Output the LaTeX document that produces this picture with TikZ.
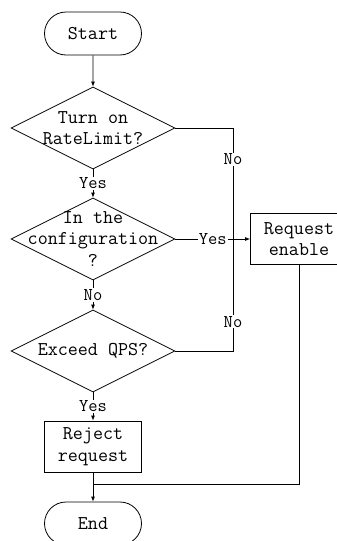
\documentclass[tikz,border=0pt]{standalone}
\usepackage{tikz}
\usetikzlibrary{shapes.geometric, shapes.misc, arrows.meta, positioning}

\tikzset{
  terminal/.style={draw, rounded rectangle, minimum width=97pt, minimum height=43pt, inner sep=0pt},
  decision/.style={draw, diamond, minimum width=164pt, minimum height=82pt, inner sep=0pt},
  process/.style={draw, rectangle, minimum width=97pt, minimum height=51pt, inner sep=0pt, align=center},
  txt/.style={align=center, font=\ttfamily\fontsize{19.5}{21.5}\selectfont},
  lab/.style={fill=white, inner sep=1pt, font=\ttfamily\fontsize{18}{20}\selectfont},
  flow/.style={-{Latex[length=5pt, width=4pt]}},
}

\begin{document}
\begin{tikzpicture}[x=1pt, y=-1pt, line width=0.8pt]
  \useasboundingbox (0,0) rectangle (337,541);

  % Start, checks and steps
  \node[terminal, txt] (start) at (93,33.5) {Start};
  \node[decision] (d1) at (93,128) {};
  \node[txt] (t1) at (d1) {Turn on\\RateLimit?};
  \node[decision] (d2) at (93,239) {};
  \node[txt] (t2) at (d2) {In the\\configuration\\?};
  \node[decision] (d3) at (93,351) {};
  \node[txt] (t3) at (d3) {Exceed QPS?};
  \node[process, txt] (reject) at (93,446.5) {Reject\\request};
  \node[process, txt] (enable) at (299,239) {Request\\enable};
  \node[terminal, txt] (end) at (93,523.5) {End};

  % Junctions
  \coordinate (join) at (233,239);
  \coordinate (merge) at (93,484);

  % Main flow
  \draw[flow] (start) -- (d1);
  \draw[flow] (d1) -- node[lab] {Yes} (d2);
  \draw[flow] (d2) -- node[lab] {No} (d3);
  \draw[flow] (d3) -- node[lab] {Yes} (reject);
  \draw[flow] (reject) -- (end);

  % Branches to Request enable
  \draw (d1.east) -| node[lab, pos=0.64] {No} (join);
  \draw (d3.east) -| node[lab, pos=0.63] {No} (join);
  \draw[flow] (d2.east) -- node[lab] {Yes} (enable);
  \draw (enable.south) |- (merge);
\end{tikzpicture}
\end{document}
